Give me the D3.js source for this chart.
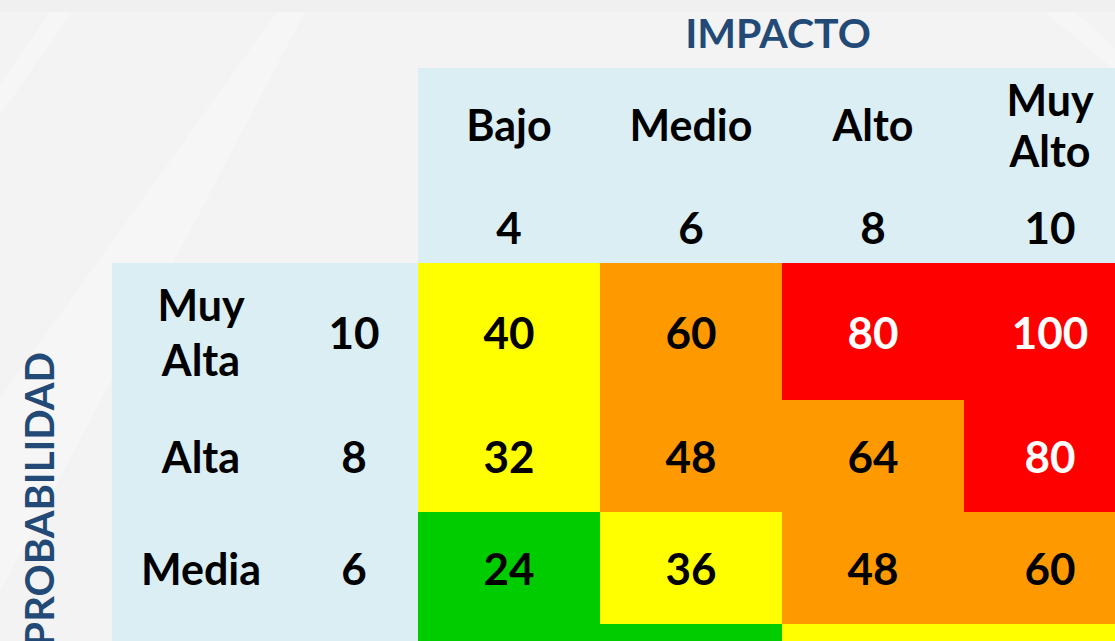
<!DOCTYPE html>
<html>
<head>
<meta charset="utf-8">
<script src="https://cdn.jsdelivr.net/npm/d3@7"></script>
<style>
  body { margin: 0; overflow: hidden; background: #f2f3f3; }
  text { font-family: Lato, "Open Sans", sans-serif; font-weight: 700; }
</style>
</head>
<body>
<svg id="matrix"></svg>
<script>
// impacto (columnas)
var impactLabels = ["Bajo", "Medio", "Alto", "Muy Alto"];
var impactValues = [4, 6, 8, 10];
// probabilidad (filas)
var probLabels = ["Muy Alta", "Alta", "Media", "Baja"];
var probValues = [10, 8, 6, 4];
// valor de riesgo por celda
var scores = [
  [40, 60, 80, 100],
  [32, 48, 64, 80],
  [24, 36, 48, 60],
  [16, 24, 32, 40]
];
// nivel de riesgo por celda (B bajo, M medio, A alto, E extremo)
var levels = [
  ["M", "A", "E", "E"],
  ["M", "A", "A", "E"],
  ["B", "M", "A", "A"],
  ["B", "B", "M", "M"]
];

var W = 1115, H = 641;
var svg = d3.select("#matrix").attr("width", W).attr("height", H);

var color = d3.scaleOrdinal()
    .domain(["B", "M", "A", "E"])
    .range(["#00cc00", "#ffff00", "#ff9900", "#ff0000"]);

var gridLeft = 418, gridTop = 263, colW = 182;
var rowHeights = [137, 112, 112, 112];
var rowTops = [gridTop];
rowHeights.forEach(function (h, i) { rowTops.push(rowTops[i] + h); });

var x = d3.scaleBand()
    .domain(impactLabels)
    .range([gridLeft, gridLeft + colW * impactLabels.length]);
var yTop = d3.scaleOrdinal().domain(probLabels).range(rowTops);
var yH = d3.scaleOrdinal().domain(probLabels).range(rowHeights);
// la ultima fila queda casi fuera de la imagen: solo se ve el color
function visible(p) { return yTop(p) + yH(p) / 2 < H; }

// fondo con franjas diagonales suaves
svg.append("rect").attr("width", W).attr("height", H).attr("fill", "#f2f3f2");
svg.append("rect").attr("width", W).attr("height", 12).attr("fill", "#eff0ef");
var stripes = [
  [[50, 12], [72, 12], [0, 115], [0, 85]],
  [[277, 12], [305, 12], [0, 592], [0, 398]],
  [[1045, 12], [1075, 12], [1115, 48], [1115, 70]]
];
svg.selectAll(".stripe").data(stripes).enter().append("polygon")
    .attr("points", function (d) { return d.join(" "); })
    .attr("fill", "#ffffff").attr("opacity", 0.3);

// cabeceras azul claro
svg.append("rect")
    .attr("x", gridLeft).attr("y", 68)
    .attr("width", W - gridLeft).attr("height", gridTop - 68)
    .attr("fill", "#daeef3");
svg.append("rect")
    .attr("x", 112).attr("y", gridTop)
    .attr("width", gridLeft - 112).attr("height", H - gridTop)
    .attr("fill", "#daeef3");

function wrapLabel(sel, lineH) {
  sel.each(function (d) {
    var t = d3.select(this), words = d.split(" ");
    var y0 = +t.attr("y") - (words.length - 1) * lineH / 2;
    words.forEach(function (w, i) {
      t.append("tspan").attr("x", t.attr("x")).attr("y", y0 + i * lineH).text(w);
    });
  });
}

// titulos
svg.append("text")
    .attr("x", 778).attr("y", 32)
    .attr("text-anchor", "middle").attr("dominant-baseline", "central")
    .style("font-size", "41px").style("fill", "#234a76")
    .text("IMPACTO");
svg.append("text")
    .attr("transform", "translate(39,352) rotate(-90)")
    .attr("text-anchor", "end").attr("dominant-baseline", "central")
    .style("font-size", "40px").style("fill", "#234a76")
    .text("PROBABILIDAD");

// cabecera de columnas
svg.selectAll(".colLabel").data(impactLabels).enter().append("text")
    .attr("class", "colLabel")
    .attr("x", function (d) { return x(d) + x.bandwidth() / 2 - (d === "Muy Alto" ? 5 : 0); })
    .attr("y", 124)
    .attr("text-anchor", "middle").attr("dominant-baseline", "central")
    .style("font-size", "43px")
    .call(wrapLabel, 51);
svg.selectAll(".colValue").data(impactValues).enter().append("text")
    .attr("class", "colValue")
    .attr("x", function (d, i) { return x(impactLabels[i]) + x.bandwidth() / 2 - (i === 3 ? 5 : 0); })
    .attr("y", 227)
    .attr("text-anchor", "middle").attr("dominant-baseline", "central")
    .style("font-size", "44px")
    .text(function (d) { return d; });

// cabecera de filas
var shownRows = probLabels.filter(visible);
svg.selectAll(".rowLabel").data(shownRows).enter().append("text")
    .attr("class", "rowLabel")
    .attr("x", 201)
    .attr("y", function (d) { return yTop(d) + yH(d) / 2; })
    .attr("text-anchor", "middle").attr("dominant-baseline", "central")
    .style("font-size", "43px")
    .call(wrapLabel, 55);
svg.selectAll(".rowValue").data(shownRows).enter().append("text")
    .attr("class", "rowValue")
    .attr("x", 354)
    .attr("y", function (d) { return yTop(d) + yH(d) / 2; })
    .attr("text-anchor", "middle").attr("dominant-baseline", "central")
    .style("font-size", "44px")
    .text(function (d) { return probValues[probLabels.indexOf(d)]; });

// celdas
var cells = [];
probLabels.forEach(function (p, r) {
  impactLabels.forEach(function (c, k) {
    cells.push({ row: p, col: c, score: scores[r][k], level: levels[r][k] });
  });
});

var g = svg.selectAll(".cell").data(cells).enter().append("g").attr("class", "cell");
g.append("rect")
    .attr("x", function (d) { return x(d.col); })
    .attr("y", function (d) { return yTop(d.row); })
    .attr("width", x.bandwidth())
    .attr("height", function (d) { return yH(d.row); })
    .attr("fill", function (d) { return color(d.level); });
g.filter(function (d) { return visible(d.row); }).append("text")
    .attr("x", function (d) { return x(d.col) + x.bandwidth() / 2 - (d.col === "Muy Alto" ? 5 : 0); })
    .attr("y", function (d) { return yTop(d.row) + yH(d.row) / 2; })
    .attr("text-anchor", "middle").attr("dominant-baseline", "central")
    .style("font-size", "44px")
    .style("fill", function (d) { return d.level === "E" ? "#ffffff" : "#000000"; })
    .text(function (d) { return d.score; });
</script>
</body>
</html>
